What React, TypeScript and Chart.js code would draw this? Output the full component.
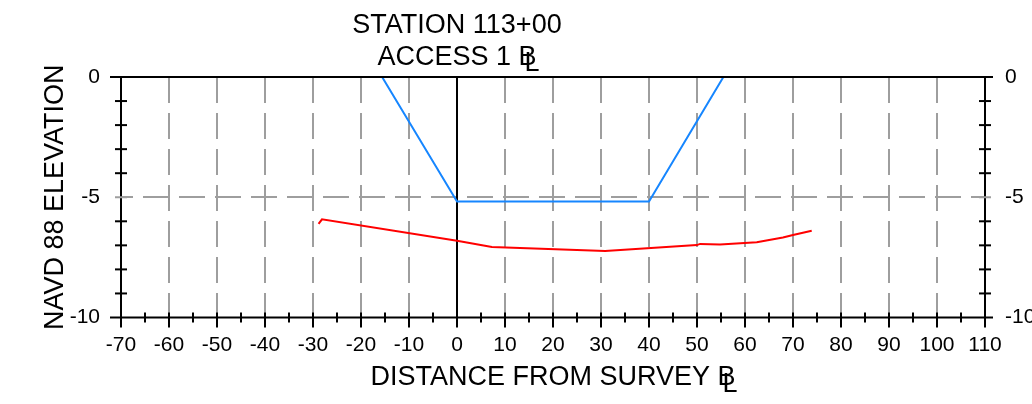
import React, { useEffect, useRef } from 'react';
import { Chart, registerables } from 'chart.js';

Chart.register(...registerables);

// ---- text ----
const TITLE_LINE1 = 'STATION 113+00';
const TITLE_LINE2 = 'ACCESS 1 ';
const X_TITLE = 'DISTANCE FROM SURVEY ';
const Y_TITLE = 'NAVD 88 ELEVATION';
const BL_B = 'B';
const BL_L = 'L';

// ---- axes ----
const X_MIN = -70;
const X_MAX = 110;
const X_STEP = 10;
const X_MINOR = 5;
const Y_MIN = -10;
const Y_MAX = 0;
const Y_STEP = 5;
const Y_MINOR = 1;

// ---- data ----
const designX = [-15.6, 0, 40, 55.5];
const designY = [0, -5.18, -5.18, 0];
const groundX = [-28.84, -28.13, 0, 7.27, 30.86, 49.96, 50.65, 54.8, 62.45, 67.9, 70, 73.9];
const groundY = [-6.11, -5.92, -6.81, -7.07, -7.23, -6.99, -6.94, -6.96, -6.87, -6.67, -6.57, -6.39];

const FONT = '"Liberation Sans", Arial, sans-serif';
const GRID = 'rgb(158,158,158)';
const CLEAR = 'rgba(0,0,0,0)';

const decor = {
  id: 'decor',
  beforeDatasetsDraw(chart: any) {
    const { ctx, chartArea: a, scales } = chart;
    const x0 = scales.x.getPixelForValue(0);
    ctx.save();
    ctx.strokeStyle = '#000';
    ctx.lineWidth = 2;
    ctx.beginPath();
    ctx.moveTo(x0, a.top);
    ctx.lineTo(x0, a.bottom);
    ctx.stroke();
    ctx.restore();
  },
  afterDraw(chart: any) {
    const { ctx, chartArea: a, scales } = chart;
    const x = scales.x;
    const y = scales.y;
    ctx.save();
    ctx.lineWidth = 2;
    ctx.lineCap = 'butt';
    const line = (x1: number, y1: number, x2: number, y2: number, color = '#000') => {
      ctx.strokeStyle = color;
      ctx.beginPath();
      ctx.moveTo(x1, y1);
      ctx.lineTo(x2, y2);
      ctx.stroke();
    };
    // frame
    line(a.left - 1, a.top, a.right + 1, a.top);
    line(a.left - 1, a.bottom, a.right + 1, a.bottom);
    line(a.left, a.top, a.left, a.bottom);
    line(a.right, a.top, a.right, a.bottom);
    // y ticks (both sides)
    for (let v = Y_MIN; v <= Y_MAX; v += Y_MINOR) {
      const py = y.getPixelForValue(v);
      if (v === Y_MIN || v === Y_MAX) {
        line(a.left - 11, py, a.left, py);
        line(a.right, py, a.right + 8, py);
      } else if (v % Y_STEP === 0) {
        line(a.left - 6, py, a.left + 6, py, GRID);
        line(a.right - 6, py, a.right + 6, py, GRID);
      } else {
        line(a.left - 6, py, a.left + 6, py);
        line(a.right - 6, py, a.right + 6, py);
      }
    }
    // x ticks
    for (let v = X_MIN; v <= X_MAX; v += X_MINOR) {
      const px = x.getPixelForValue(v);
      if (v % X_STEP === 0) line(px, a.bottom - 5, px, a.bottom + 10);
      else line(px, a.bottom - 5, px, a.bottom + 5);
    }

    ctx.fillStyle = '#000';
    // title
    const cx = x.getPixelForValue(0);
    ctx.font = `27px ${FONT}`;
    ctx.textBaseline = 'alphabetic';
    ctx.textAlign = 'center';
    ctx.fillText(TITLE_LINE1, cx, 33);
    ctx.textAlign = 'left';
    const w2 = ctx.measureText(TITLE_LINE2 + BL_B).width;
    const s2 = cx - w2 / 2;
    ctx.fillText(TITLE_LINE2, s2, 65);
    const b2 = s2 + ctx.measureText(TITLE_LINE2).width;
    ctx.fillText(BL_B, b2, 65);
    ctx.fillText(BL_L, b2 + 6, 71);

    // x axis title
    ctx.font = `27px ${FONT}`;
    const mid = (a.left + a.right) / 2;
    const wx = ctx.measureText(X_TITLE + BL_B).width;
    const sx = mid - wx / 2;
    ctx.fillText(X_TITLE, sx, 385);
    const bx = sx + ctx.measureText(X_TITLE).width;
    ctx.fillText(BL_B, bx, 385);
    ctx.fillText(BL_L, bx + 5, 392);

    // y axis title
    ctx.font = `27px ${FONT}`;
    ctx.translate(63, (a.top + a.bottom) / 2);
    ctx.rotate(-Math.PI / 2);
    ctx.textAlign = 'center';
    ctx.fillText(Y_TITLE, 0, 0);
    ctx.restore();
  },
};

export default function App() {
  const ref = useRef<HTMLCanvasElement | null>(null);

  useEffect(() => {
    if (!ref.current) return;
    const tickFont = { family: FONT, size: 21 };
    const chart = new Chart(ref.current, {
      type: 'line',
      data: {
        datasets: [
          {
            label: 'Design',
            data: designX.map((v, i) => ({ x: v, y: designY[i] })),
            borderColor: 'rgb(22,134,255)',
            borderWidth: 2,
            pointRadius: 0,
            tension: 0,
            fill: false,
          },
          {
            label: 'Ground',
            data: groundX.map((v, i) => ({ x: v, y: groundY[i] })),
            borderColor: 'rgb(255,0,0)',
            borderWidth: 2,
            pointRadius: 0,
            tension: 0,
            fill: false,
          },
        ],
      },
      options: {
        responsive: false,
        animation: false,
        devicePixelRatio: 1,
        layout: { padding: { top: 77, left: 0, right: 0, bottom: 0 } },
        plugins: {
          legend: { display: false },
          tooltip: { enabled: false },
          title: { display: false },
        },
        scales: {
          x: {
            type: 'linear',
            position: 'bottom',
            min: X_MIN,
            max: X_MAX,
            afterFit: (s: any) => { s.height = 86.5; },
            ticks: {
              stepSize: X_STEP,
              autoSkip: false,
              maxRotation: 0,
              color: '#000',
              font: tickFont,
              padding: 15,
            },
            grid: {
              color: (c: any) => {
                const v = c.tick ? c.tick.value : null;
                return v === null || v === 0 || v === X_MIN || v === X_MAX ? CLEAR : GRID;
              },
              lineWidth: 2,
              drawTicks: false,
            },
            border: { display: false, dash: [26, 10], dashOffset: 0 },
          },
          y: {
            type: 'linear',
            position: 'left',
            min: Y_MIN,
            max: Y_MAX,
            afterFit: (s: any) => { s.width = 121; },
            ticks: { stepSize: Y_STEP, color: '#000', font: tickFont, padding: 21 },
            grid: {
              color: (c: any) => {
                const v = c.tick ? c.tick.value : null;
                return v === null || v === Y_MIN || v === Y_MAX ? CLEAR : GRID;
              },
              lineWidth: 2,
              drawTicks: false,
            },
            border: { display: false, dash: [26, 10], dashOffset: 14 },
          },
          y2: {
            type: 'linear',
            position: 'right',
            display: true,
            min: Y_MIN,
            max: Y_MAX,
            afterFit: (s: any) => { s.width = 47; },
            ticks: { stepSize: Y_STEP, color: '#000', font: tickFont, padding: 20 },
            grid: { display: false, drawTicks: false },
            border: { display: false },
          },
        },
      } as any,
      plugins: [decor],
    });
    return () => chart.destroy();
  }, []);

  return (
    <div style={{ position: 'absolute', left: 0, top: 0, width: 1032, height: 404, background: '#fff' }}>
      <canvas ref={ref} width={1032} height={404} style={{ display: 'block', width: 1032, height: 404 }} />
    </div>
  );
}
